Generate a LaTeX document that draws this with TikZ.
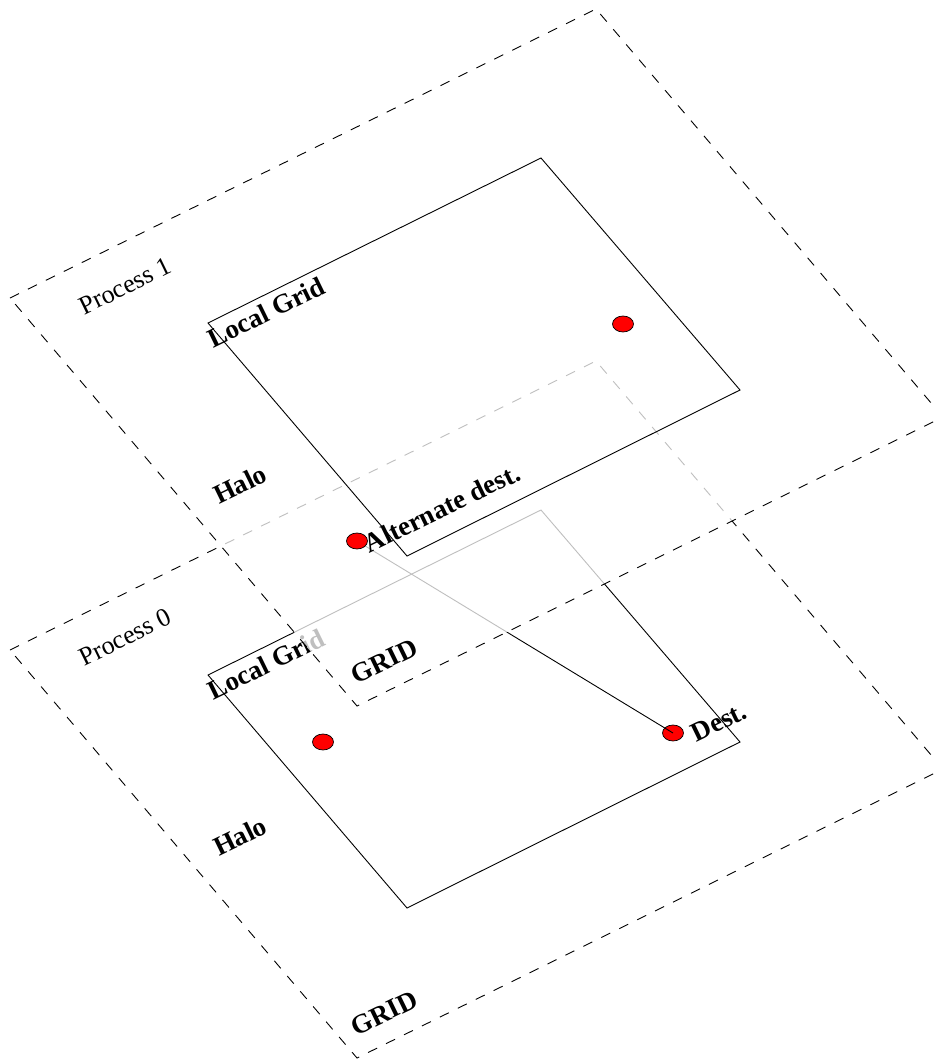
\documentclass[tikz,border=0pt]{standalone}
\usepackage{fontspec}
\setmainfont{Liberation Serif}
\usetikzlibrary{shapes.geometric}
\begin{document}
\begin{tikzpicture}[x=1pt,y=-1pt,
  halo/.style={draw=black, line width=0.9pt, dash pattern=on 10pt off 10pt},
  gridbox/.style={draw=black, line width=0.9pt},
  site/.style={ellipse, draw=black, fill=red, line width=0.7pt,
    minimum width=21pt, minimum height=16pt, inner sep=0pt},
  tag/.style={font=\fontsize{27}{31}\selectfont\bfseries, rotate=26, inner sep=0pt},
  proc/.style={font=\fontsize{26}{30}\selectfont, rotate=26, inner sep=0pt},
  link/.style={draw=black, line width=0.9pt}]
\useasboundingbox (0,0) rectangle (934,1059);

% ---- Process 0 (lower layer) ----
\coordinate (h0a) at (10,650);  \coordinate (h0b) at (596,361);
\coordinate (h0c) at (943,769); \coordinate (h0d) at (357,1058);
\coordinate (g0a) at (208,675); \coordinate (g0b) at (541,510);
\coordinate (g0c) at (740,742); \coordinate (g0d) at (407,908);
\draw[halo] (h0a) -- (h0b) -- (h0c) -- (h0d) -- cycle;
\draw[gridbox] (g0a) -- (g0b) -- (g0c) -- (g0d) -- cycle;
\node[proc] (p0) at (125,637) {Process 0};
\node[tag] (lg0) at (266,664) {Local Grid};
\node[tag] (halo0) at (240,836) {Halo};
\node[tag] (grid0) at (384,1013) {GRID};
\node[site] (s0) at (323,742) {};
\node[site] (dest) at (673,733) {};
\node[tag] (destl) at (719,722) {Dest.};

% link from the alternate destination to the destination
\coordinate (alt) at (357,541);
\draw[link] (alt) -- (dest.center);

% the upper layer hides what lies beneath it
\coordinate (h1a) at (10,298);  \coordinate (h1b) at (596,9);
\coordinate (h1c) at (943,417); \coordinate (h1d) at (357,706);
\fill[white, opacity=0.75] (h1a) -- (h1b) -- (h1c) -- (h1d) -- cycle;

% ---- Process 1 (upper layer) ----
\coordinate (g1a) at (208,323); \coordinate (g1b) at (541,158);
\coordinate (g1c) at (740,390); \coordinate (g1d) at (407,556);
\draw[halo] (h1a) -- (h1b) -- (h1c) -- (h1d) -- cycle;
\draw[gridbox] (g1a) -- (g1b) -- (g1c) -- (g1d) -- cycle;
\node[proc] (p1) at (125,286) {Process 1};
\node[tag] (lg1) at (266,312) {Local Grid};
\node[tag] (halo1) at (240,484) {Halo};
\node[tag] (grid1) at (384,661) {GRID};
\node[site] (s1) at (623,324) {};
\node[site] (altdot) at (alt) {};
\node[tag] (altl) at (442,508) {Alternate dest.};
\end{tikzpicture}
\end{document}
